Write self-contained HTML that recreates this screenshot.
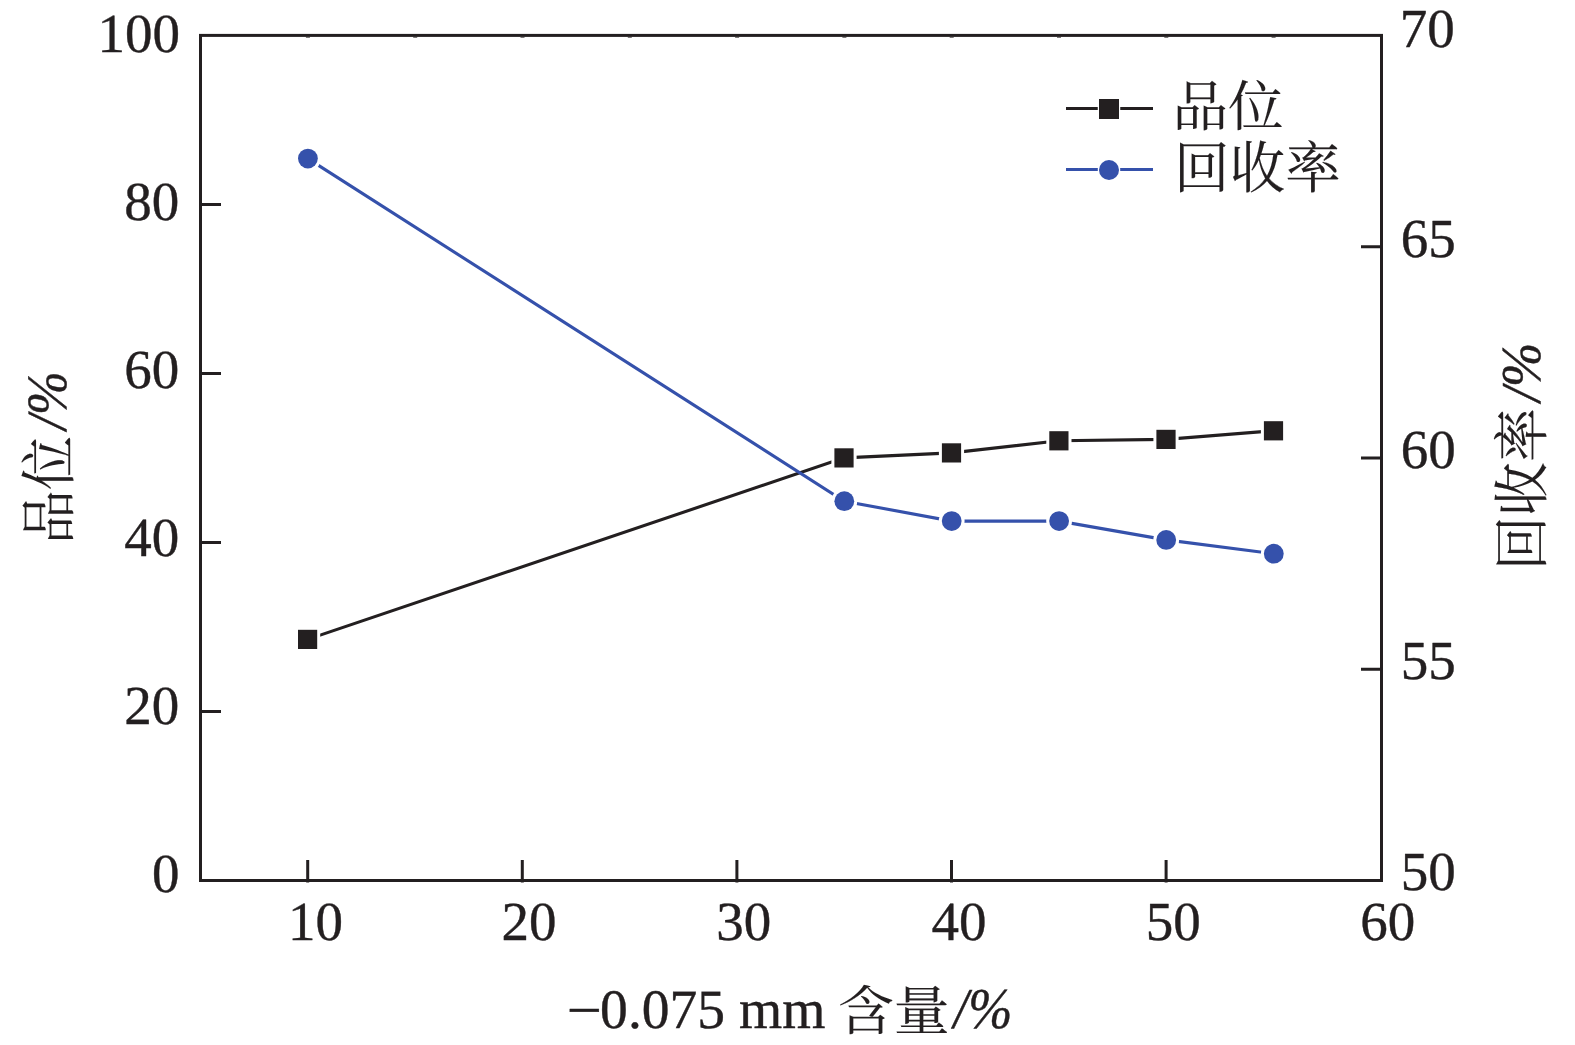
<!DOCTYPE html>
<html lang="zh"><head><meta charset="utf-8"><title>品位与回收率 — −0.075 mm 含量</title>
<style>
html,body{margin:0;padding:0;background:#fff}
body{width:1575px;height:1045px;overflow:hidden}
svg{display:block}
.l{font-family:"Liberation Serif","Noto Serif CJK SC",serif;}
.c{font-family:"Noto Serif CJK SC","Liberation Serif",serif;stroke-width:0.1px!important}
.i{font-style:italic}
.t{fill:#231f20;stroke:#231f20;stroke-width:0.4px;stroke-linejoin:round;text-rendering:geometricPrecision}
</style></head><body>
<svg width="1575" height="1045" viewBox="0 0 1575 1045">
<rect width="1575" height="1045" fill="#fff"/>
<rect x="200.5" y="35.4" width="1181.0" height="845.1" fill="none" stroke="#231f20" stroke-width="3"/>
<path d="M200.5 711.5h20.5 M200.5 542.5h20.5 M200.5 373.5h20.5 M200.5 204.5h20.5 M1381.5 669.25h-20.5 M1381.5 458.00h-20.5 M1381.5 246.75h-20.5 M307.7 882.4V859.9 M522.3 882.4V859.9 M736.9 882.4V859.9 M951.5 882.4V859.9 M1166.1 882.4V859.9" stroke="#231f20" stroke-width="3" fill="none"/>
<path d="M305.9 37.4h4 M413.2 37.4h4 M520.5 37.4h4 M627.8 37.4h4 M735.1 37.4h4 M842.4 37.4h4 M949.7 37.4h4 M1057.0 37.4h4 M1164.3 37.4h4 M1271.6 37.4h4" stroke="#231f20" stroke-opacity="0.6" stroke-width="1.2" fill="none"/>
<path d="M307.6 639.4 L844.0 457.9 L951.5 452.9 L1058.9 440.8 L1166.0 439.4 L1273.5 430.8" stroke="#231f20" stroke-width="3.1" fill="none"/>
<path d="M307.9 158.6 L844.3 501.2 L951.7 521.1 L1059.1 521.1 L1166.2 539.9 L1273.8 553.7" stroke="#3551ab" stroke-width="3.1" fill="none"/>
<rect x="298.0" y="629.8" width="19.2" height="19.2" fill="#231f20" stroke="#fff" stroke-width="6" paint-order="stroke"/>
<rect x="834.4" y="448.3" width="19.2" height="19.2" fill="#231f20" stroke="#fff" stroke-width="6" paint-order="stroke"/>
<rect x="941.9" y="443.3" width="19.2" height="19.2" fill="#231f20" stroke="#fff" stroke-width="6" paint-order="stroke"/>
<rect x="1049.3" y="431.2" width="19.2" height="19.2" fill="#231f20" stroke="#fff" stroke-width="6" paint-order="stroke"/>
<rect x="1156.4" y="429.8" width="19.2" height="19.2" fill="#231f20" stroke="#fff" stroke-width="6" paint-order="stroke"/>
<rect x="1263.9" y="421.2" width="19.2" height="19.2" fill="#231f20" stroke="#fff" stroke-width="6" paint-order="stroke"/>
<circle cx="307.9" cy="158.6" r="9.9" fill="#3551ab" stroke="#fff" stroke-width="6" paint-order="stroke"/>
<circle cx="844.3" cy="501.2" r="9.9" fill="#3551ab" stroke="#fff" stroke-width="6" paint-order="stroke"/>
<circle cx="951.7" cy="521.1" r="9.9" fill="#3551ab" stroke="#fff" stroke-width="6" paint-order="stroke"/>
<circle cx="1059.1" cy="521.1" r="9.9" fill="#3551ab" stroke="#fff" stroke-width="6" paint-order="stroke"/>
<circle cx="1166.2" cy="539.9" r="9.9" fill="#3551ab" stroke="#fff" stroke-width="6" paint-order="stroke"/>
<circle cx="1273.8" cy="553.7" r="9.9" fill="#3551ab" stroke="#fff" stroke-width="6" paint-order="stroke"/>
<path d="M1066 108.6H1153" stroke="#231f20" stroke-width="3"/><rect x="1099" y="99" width="20" height="20" fill="#231f20" stroke="#fff" stroke-width="2.5" paint-order="stroke"/>
<path d="M1066 169.6H1153" stroke="#3551ab" stroke-width="3"/><circle cx="1109" cy="170" r="10" fill="#3551ab" stroke="#fff" stroke-width="2.5" paint-order="stroke"/>
<text class="t l" transform="translate(138.70 51.60)" text-anchor="middle" style="font-size:55.00px;">100</text>
<text class="t l" transform="translate(151.70 219.60)" text-anchor="middle" style="font-size:55.00px;">80</text>
<text class="t l" transform="translate(151.70 387.60)" text-anchor="middle" style="font-size:55.00px;">60</text>
<text class="t l" transform="translate(151.70 555.90)" text-anchor="middle" style="font-size:55.00px;">40</text>
<text class="t l" transform="translate(151.70 723.90)" text-anchor="middle" style="font-size:55.00px;">20</text>
<text class="t l" transform="translate(165.70 891.90)" text-anchor="middle" style="font-size:55.00px;">0</text>
<text class="t l" transform="translate(1427.30 46.80)" text-anchor="middle" style="font-size:55.00px;">70</text>
<text class="t l" transform="translate(1428.30 257.10)" text-anchor="middle" style="font-size:55.00px;">65</text>
<text class="t l" transform="translate(1428.30 468.40)" text-anchor="middle" style="font-size:55.00px;">60</text>
<text class="t l" transform="translate(1428.30 678.70)" text-anchor="middle" style="font-size:55.00px;">55</text>
<text class="t l" transform="translate(1428.30 890.00)" text-anchor="middle" style="font-size:55.00px;">50</text>
<text class="t l" transform="translate(315.45 940.00)" text-anchor="middle" style="font-size:55.00px;">10</text>
<text class="t l" transform="translate(529.00 940.00)" text-anchor="middle" style="font-size:55.00px;">20</text>
<text class="t l" transform="translate(743.85 940.00)" text-anchor="middle" style="font-size:55.00px;">30</text>
<text class="t l" transform="translate(959.05 940.00)" text-anchor="middle" style="font-size:55.00px;">40</text>
<text class="t l" transform="translate(1173.25 940.00)" text-anchor="middle" style="font-size:55.00px;">50</text>
<text class="t l" transform="translate(1387.75 940.00)" text-anchor="middle" style="font-size:55.00px;">60</text>
<text class="t c" transform="translate(1228.10 125.50) scale(1.0000 0.9891)" text-anchor="middle" style="font-size:55.64px;">品位</text>
<text class="t c" transform="translate(1257.35 188.10) scale(1.0000 1.0173)" text-anchor="middle" style="font-size:55.57px;">回收率</text>
<text class="t l" transform="translate(584.30 1028.50) scale(1.1124 1.0000)" text-anchor="middle" style="font-size:56.00px;">−</text>
<text class="t l" transform="translate(712.75 1028.30)" text-anchor="middle" style="font-size:55.55px;">0.075 mm</text>
<text class="t c" transform="translate(893.75 1029.80) scale(1.0000 0.9623)" text-anchor="middle" style="font-size:55.85px;">含量</text>
<text class="t l i" transform="translate(983.05 1027.90) scale(1.0000 1.0868)" text-anchor="middle" style="font-size:53.02px;">/%</text>
<text class="t c" transform="translate(68.50 490.00) rotate(-90) scale(1.0000 1.0526)" text-anchor="middle" style="font-size:53.94px;">品位</text>
<text class="t l i" transform="translate(66.05 400.40) rotate(-90) scale(1.0000 1.0785)" text-anchor="middle" style="font-size:52.63px;">/%</text>
<text class="t c" transform="translate(1542.35 489.10) rotate(-90) scale(1.0000 1.0503)" text-anchor="middle" style="font-size:54.09px;">回收率</text>
<text class="t l i" transform="translate(1540.15 372.20) rotate(-90) scale(1.0000 1.0561)" text-anchor="middle" style="font-size:53.20px;">/%</text>
</svg></body></html>
